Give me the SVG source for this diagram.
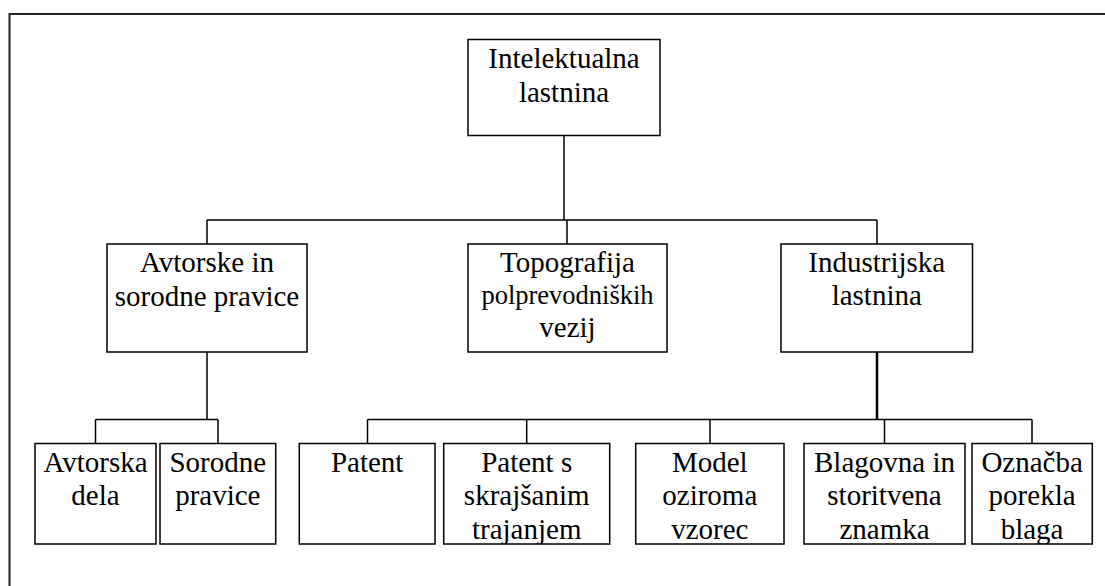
<svg xmlns="http://www.w3.org/2000/svg" width="1105" height="586" viewBox="0 0 1105 586">
<style>
.box{fill:#fff;stroke:#000;stroke-width:1.5}
.frame{fill:none;stroke:#222;stroke-width:2}
.ln{fill:none;stroke:#000;stroke-width:1.5}
.thick{stroke-width:2.5}
text{font-family:"Liberation Serif","Times New Roman",serif;font-size:29px;fill:#000;text-anchor:middle}
.sm{font-size:26.5px}
</style>
<defs>
<clipPath id="c4"><rect x="443.7" y="443.5" width="166" height="100.5"/></clipPath>
<clipPath id="c5"><rect x="635.7" y="443.5" width="148.3" height="100.5"/></clipPath>
<clipPath id="c6"><rect x="804" y="443.5" width="161" height="100.5"/></clipPath>
<clipPath id="c7"><rect x="972" y="443.5" width="120.3" height="100.5"/></clipPath>
</defs>
<rect x="0" y="0" width="1105" height="586" fill="#fff"/>
<rect class="frame" x="9.5" y="14" width="1200" height="700"/>
<g id="connectors">
<path class="ln" d="M564 135.5V220M207 220H877M207 220V244M567 220V244M877 220V244"/>
<path class="ln" d="M207 352V419.5M95.5 419.5H218M95.5 419.5V443.5M218 419.5V443.5"/>
<path class="ln thick" d="M877 352V419.5"/>
<path class="ln" d="M367.5 419.5H1032M367.5 419.5V443.5M526.7 419.5V443.5M710 419.5V443.5M884.5 419.5V443.5M1032 419.5V443.5"/>
</g>
<g id="n-root">
<rect class="box" x="468" y="39.5" width="192" height="96"/>
<text x="564" y="68">Intelektualna</text>
<text x="564" y="102">lastnina</text>
</g>
<g id="n-avtorske">
<rect class="box" x="107" y="244" width="200" height="108"/>
<text x="207" y="272">Avtorske in</text>
<text x="207" y="305.5">sorodne pravice</text>
</g>
<g id="n-topografija">
<rect class="box" x="468" y="244" width="199" height="108"/>
<text x="567.5" y="272">Topografija</text>
<text class="sm" x="567.5" y="304">polprevodniških</text>
<text x="567.5" y="337">vezij</text>
</g>
<g id="n-industrijska">
<rect class="box" x="781" y="244" width="191.5" height="108"/>
<text x="876.75" y="272">Industrijska</text>
<text x="876.75" y="305">lastnina</text>
</g>
<g id="n-avtorska-dela">
<rect class="box" x="35" y="443.5" width="121" height="100.5"/>
<text x="95.5" y="472">Avtorska</text>
<text x="95.5" y="505">dela</text>
</g>
<g id="n-sorodne">
<rect class="box" x="160" y="443.5" width="115.7" height="100.5"/>
<text x="217.8" y="472">Sorodne</text>
<text x="217.8" y="505">pravice</text>
</g>
<g id="n-patent">
<rect class="box" x="299.3" y="443.5" width="135.7" height="100.5"/>
<text x="367.2" y="472">Patent</text>
</g>
<g id="n-patent-s">
<rect class="box" x="443.7" y="443.5" width="166" height="100.5"/>
<g clip-path="url(#c4)">
<text x="526.7" y="472">Patent s</text>
<text x="526.7" y="505">skrajšanim</text>
<text x="526.7" y="538.5">trajanjem</text>
</g>
</g>
<g id="n-model">
<rect class="box" x="635.7" y="443.5" width="148.3" height="100.5"/>
<g clip-path="url(#c5)">
<text x="709.8" y="472">Model</text>
<text x="709.8" y="505">oziroma</text>
<text x="709.8" y="538.5">vzorec</text>
</g>
</g>
<g id="n-blagovna">
<rect class="box" x="804" y="443.5" width="161" height="100.5"/>
<g clip-path="url(#c6)">
<text x="884.5" y="472">Blagovna in</text>
<text x="884.5" y="505">storitvena</text>
<text x="884.5" y="538.5">znamka</text>
</g>
</g>
<g id="n-oznacba">
<rect class="box" x="972" y="443.5" width="120.3" height="100.5"/>
<g clip-path="url(#c7)">
<text x="1032.1" y="472">Označba</text>
<text x="1032.1" y="505">porekla</text>
<text x="1032.1" y="538.5">blaga</text>
</g>
</g>
</svg>
